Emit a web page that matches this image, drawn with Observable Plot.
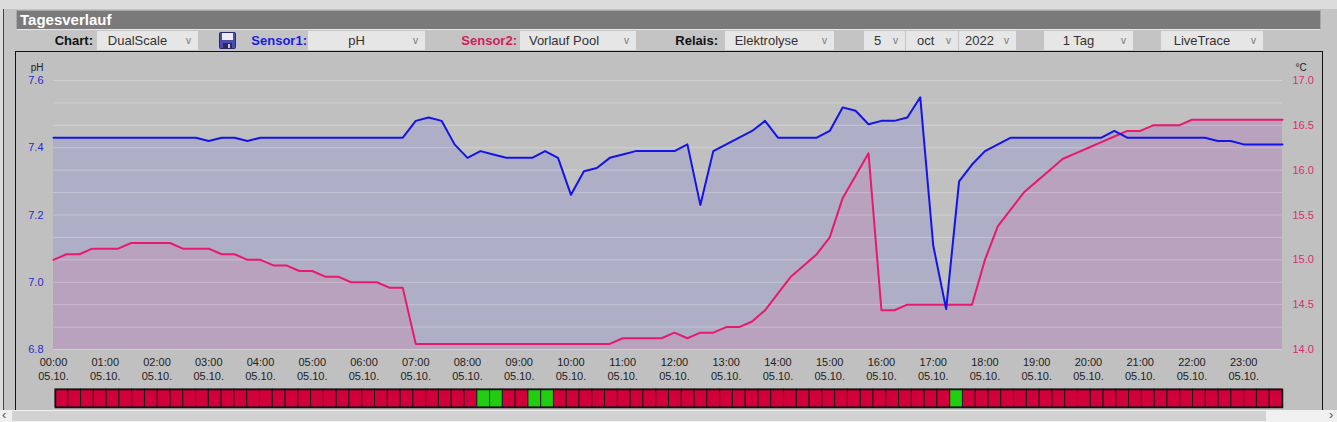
<!DOCTYPE html>
<html><head><meta charset="utf-8">
<script src="https://cdn.jsdelivr.net/npm/d3@7"></script>
<script src="https://cdn.jsdelivr.net/npm/@observablehq/plot@0.6"></script>
<style>
html,body{margin:0;padding:0;}
body{width:1337px;height:422px;overflow:hidden;background:#dcdcdc;position:relative;font-family:"Liberation Sans",Arial,sans-serif;}
#frame{position:absolute;left:3px;top:9px;width:1333px;height:401px;background:#c4c4c4;border-left:1px solid #444;}
#titlebar{position:absolute;left:16px;top:10px;width:1300px;height:18px;background:#7a7a7a;border:1px solid #a8a8a8;border-bottom:1px solid #e8e8e8;color:#fff;font-weight:bold;font-size:15px;line-height:18px;padding-left:3px;}
.ctl{position:absolute;top:31px;height:19px;line-height:19px;font-family:"Liberation Sans",Arial,sans-serif;font-size:13px;white-space:nowrap;}
.lbl{font-weight:bold;color:#111;text-align:right;}
.sel{background:#e6e6e6;color:#333;box-sizing:border-box;}
.sel .chev{position:absolute;right:7px;top:0;color:#777;font-size:10px;}
#panel{position:absolute;left:15px;top:51px;width:1306px;height:359px;border:1px solid #111;border-bottom:none;background:#c0c0c0;}
#chart{position:absolute;left:0;top:52px;}
#relay{position:absolute;left:0;top:385px;}
#scroll{position:absolute;left:0;top:410px;width:1337px;height:12px;background:#f0f0f0;}
#thumb{position:absolute;left:12px;top:1px;width:1254px;height:10px;background:#d2d2d2;}
.arr{position:absolute;top:-3px;font-size:13px;color:#555;}
</style>
</head>
<body>
<div id="frame"></div>
<div id="titlebar">Tagesverlauf</div>

<div class="ctl lbl" style="left:40px;width:53px;">Chart:</div>
<div class="ctl sel" style="left:97px;width:101px;padding-right:20px;text-align:center;">DualScale<span class="chev">v</span></div>
<svg class="ctl" style="left:219px;top:31px;" width="17" height="17" viewBox="0 0 17 17">
  <rect x="0.5" y="0.5" width="16" height="16" rx="1" fill="#4b4bb0" stroke="#2a2a70"/>
  <rect x="3" y="1" width="11" height="7" fill="#ececf4"/>
  <rect x="4" y="11" width="9" height="6" fill="#2c2c5c"/>
  <rect x="9" y="12" width="2" height="4" fill="#c8c8e0"/>
</svg>
<div class="ctl lbl" style="left:240px;width:67px;color:#1c1ce0;">Sensor1:</div>
<div class="ctl sel" style="left:308px;width:117px;padding-right:20px;text-align:center;">pH<span class="chev">v</span></div>
<div class="ctl lbl" style="left:450px;width:67px;color:#d01e5c;">Sensor2:</div>
<div class="ctl sel" style="left:520px;width:116px;padding-right:28px;text-align:center;">Vorlauf Pool<span class="chev">v</span></div>
<div class="ctl lbl" style="left:660px;width:58px;">Relais:</div>
<div class="ctl sel" style="left:725px;width:109px;padding-right:26px;text-align:center;">Elektrolyse<span class="chev">v</span></div>
<div class="ctl sel" style="left:864px;width:41px;padding-left:10px;">5<span class="chev">v</span></div>
<div class="ctl sel" style="left:906px;width:52px;padding-left:11px;">oct<span class="chev">v</span></div>
<div class="ctl sel" style="left:959px;width:57px;padding-left:6px;">2022<span class="chev">v</span></div>
<div class="ctl sel" style="left:1044px;width:89px;padding-right:20px;text-align:center;">1 Tag<span class="chev">v</span></div>
<div class="ctl sel" style="left:1161px;width:102px;padding-right:20px;text-align:center;">LiveTrace<span class="chev">v</span></div>

<div id="panel"></div>
<div id="chart"></div>
<div id="relay"></div>
<div id="scroll"><div id="thumb"></div><span class="arr" style="left:2px;">&lsaquo;</span><span class="arr" style="left:1329px;">&rsaquo;</span></div>

<script>
// ---- data (15-minute samples, 05.10.2022) ----
const startTime = new Date(2022, 9, 5, 0, 0);
const stepMinutes = 15;

const phValues = [
  7.43,7.43,7.43,7.43,7.43,7.43,7.43,7.43,
  7.43,7.43,7.43,7.43,7.42,7.43,7.43,7.42,
  7.43,7.43,7.43,7.43,7.43,7.43,7.43,7.43,
  7.43,7.43,7.43,7.43,7.48,7.49,7.48,7.41,
  7.37,7.39,7.38,7.37,7.37,7.37,7.39,7.37,
  7.26,7.33,7.34,7.37,7.38,7.39,7.39,7.39,
  7.39,7.41,7.23,7.39,7.41,7.43,7.45,7.48,
  7.43,7.43,7.43,7.43,7.45,7.52,7.51,7.47,
  7.48,7.48,7.49,7.55,7.11,6.92,7.30,7.35,
  7.39,7.41,7.43,7.43,7.43,7.43,7.43,7.43,
  7.43,7.43,7.45,7.43,7.43,7.43,7.43,7.43,
  7.43,7.43,7.42,7.42,7.41,7.41,7.41,7.41
];

const tempValues = [
  15.0,15.0625,15.0625,15.125,15.125,15.125,15.1875,15.1875,
  15.1875,15.1875,15.125,15.125,15.125,15.0625,15.0625,15.0,
  15.0,14.9375,14.9375,14.875,14.875,14.8125,14.8125,14.75,
  14.75,14.75,14.6875,14.6875,14.0625,14.0625,14.0625,14.0625,
  14.0625,14.0625,14.0625,14.0625,14.0625,14.0625,14.0625,14.0625,
  14.0625,14.0625,14.0625,14.0625,14.125,14.125,14.125,14.125,
  14.1875,14.125,14.1875,14.1875,14.25,14.25,14.3125,14.4375,
  14.625,14.8125,14.9375,15.0625,15.25,15.6875,15.9375,16.1875,
  14.4375,14.4375,14.5,14.5,14.5,14.5,14.5,14.5,
  15.0,15.375,15.5625,15.75,15.875,16.0,16.125,16.1875,
  16.25,16.3125,16.375,16.4375,16.4375,16.5,16.5,16.5,
  16.5625,16.5625,16.5625,16.5625,16.5625,16.5625,16.5625,16.5625
];

// relay "Elektrolyse": 1 = on (green), 0 = off (red)
const relayStates = [
  0,0,0,0,0,0,0,0, 0,0,0,0,0,0,0,0,
  0,0,0,0,0,0,0,0, 0,0,0,0,0,0,0,0,
  0,1,1,0,0,1,1,0, 0,0,0,0,0,0,0,0,
  0,0,0,0,0,0,0,0, 0,0,0,0,0,0,0,0,
  0,0,0,0,0,0,1,0, 0,0,0,0,0,0,0,0,
  0,0,0,0,0,0,0,0, 0,0,0,0,0,0,0,0
];

const phDomain = [6.8, 7.6];
const tempDomain = [14.0, 17.0];
const phTicks = [6.8, 7.0, 7.2, 7.4, 7.6];
const tempTicks = [14.0, 14.5, 15.0, 15.5, 16.0, 16.5, 17.0];
const gridTemps = [14.0,14.25,14.5,14.75,15.0,15.25,15.5,15.75,16.0,16.25,16.5,16.75,17.0];
const hourTickCount = 24;

// ---- helpers ----
const toPH = t => phDomain[0] + (t - tempDomain[0]) * (phDomain[1] - phDomain[0]) / (tempDomain[1] - tempDomain[0]);
const fromPH = p => tempDomain[0] + (p - phDomain[0]) * (tempDomain[1] - tempDomain[0]) / (phDomain[1] - phDomain[0]);
const timeAt = i => new Date(startTime.getTime() + i * stepMinutes * 60000);

const rows = phValues.map((ph, i) => ({t: timeAt(i), ph, tp: toPH(tempValues[i])}));
const hourTicks = d3.range(hourTickCount).map(h => new Date(startTime.getTime() + h * 3600000));
const fmtH = d3.timeFormat("%H:%M"), fmtD = d3.timeFormat("%d.%m.");

const chart = Plot.plot({
  width: 1337, height: 335,
  marginLeft: 53, marginRight: 55, marginTop: 28, marginBottom: 38,
  style: {background: "transparent", fontFamily: "'Liberation Sans', Arial, sans-serif", fontSize: "11px", overflow: "visible"},
  x: {type: "time", domain: [rows[0].t, rows[rows.length - 1].t]},
  y: {domain: phDomain},
  marks: [
    Plot.areaY(rows, {x: "t", y1: () => phDomain[0], y2: "ph", fill: "#aeafc6"}),
    Plot.areaY(rows, {x: "t", y1: () => phDomain[0], y2: "tp", fill: "#b8a2bd"}),
    Plot.ruleY(gridTemps.map(toPH), {stroke: "#ffffff", strokeOpacity: 0.28}),
    Plot.lineY(rows, {x: "t", y: "tp", stroke: "#e8196e", strokeWidth: 2}),
    Plot.lineY(rows, {x: "t", y: "ph", stroke: "#1414e8", strokeWidth: 2}),
    Plot.axisX({ticks: hourTicks, tickFormat: d => fmtH(d) + "\n" + fmtD(d), tickSize: 0, tickPadding: 7, lineHeight: 1.25, fill: "#222", label: null}),
    Plot.axisY({ticks: phTicks, tickFormat: d => d.toFixed(1), tickSize: 0, tickPadding: 10, fill: "#2a2ad0", label: null}),
    Plot.axisY({anchor: "right", ticks: tempTicks.map(toPH), tickFormat: v => fromPH(v).toFixed(1), tickSize: 0, tickPadding: 10, fill: "#d6306e", label: null}),
    Plot.text(["pH"], {frameAnchor: "top-left", dx: -10, dy: -17, textAnchor: "end", fill: "#222", fontSize: 10}),
    Plot.text(["°C"], {frameAnchor: "top-right", dx: 13, dy: -17, textAnchor: "start", fill: "#222", fontSize: 10})
  ]
});
document.getElementById("chart").appendChild(chart);

const relayRows = relayStates.map((s, i) => ({i, s}));
const relay = Plot.plot({
  width: 1337, height: 26,
  marginLeft: 55, marginRight: 55, marginTop: 4, marginBottom: 4,
  style: {background: "transparent", overflow: "visible"},
  x: {type: "band", domain: relayRows.map(d => d.i), padding: 0, axis: null},
  color: {type: "identity"},
  marks: [
    Plot.cell(relayRows, {x: "i", fill: d => d.s ? "#22cc11" : "#d2003a", stroke: "#1a1a1a", strokeWidth: 1, inset: 0}),
    Plot.frame({stroke: "#111", strokeWidth: 1.5})
  ]
});
document.getElementById("relay").appendChild(relay);
</script>
</body></html>
